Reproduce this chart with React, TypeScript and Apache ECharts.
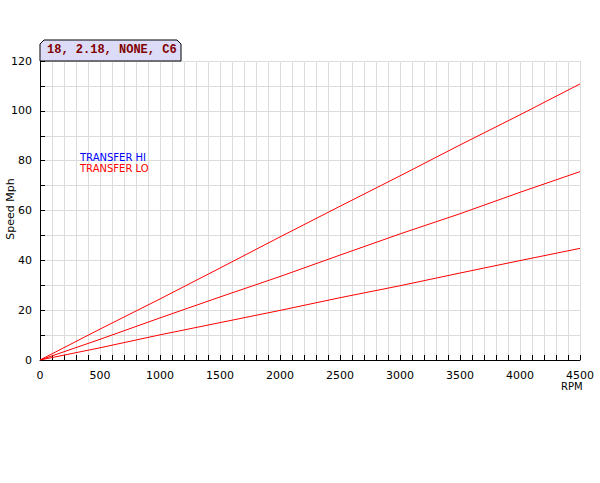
import { useEffect, useRef } from 'react'
import * as echarts from 'echarts'

// rpm sample points along the x axis
const rpm = [0, 500, 1000, 1500, 2000, 2500, 3000, 3500, 4000, 4500]

// speed (mph)
const speedTop = [0, 12.4, 24.5, 36.9, 49.4, 61.7, 73.9, 86.3, 98.4, 110.8]
const speedMid = [0, 8.3, 16.9, 25.3, 33.5, 42.1, 50.6, 58.7, 67.3, 75.6]
const speedLow = [0, 4.9, 10.1, 15.0, 19.9, 25.0, 29.8, 34.9, 39.9, 44.8]

const legendLabels = ['TRANSFER HI', 'TRANSFER LO']
const legendColors = ['#0000ff', '#ff0000']
const title = '18, 2.18, NONE, C6'

const pairs = (ys: number[]) => ys.map((y, i) => [rpm[i], y])

export default function App() {
  const containerRef = useRef<HTMLDivElement>(null)

  useEffect(() => {
    if (!containerRef.current) return
    const chart = echarts.init(containerRef.current, null, { renderer: 'svg' })

    const font = 'DejaVu Sans, Verdana, sans-serif'

    chart.setOption({
      animation: false,
      backgroundColor: '#ffffff',
      grid: {
        left: 40,
        right: 20,
        top: 61,
        bottom: 123,
        containLabel: false,
        outerBoundsMode: 'none',
      },
      xAxis: {
        type: 'value',
        min: 0,
        max: 4500,
        interval: 100,
        axisLine: { lineStyle: { color: '#000', width: 1 } },
        axisTick: { inside: true, length: 5, lineStyle: { color: '#000' } },
        axisLabel: {
          color: '#000',
          fontFamily: font,
          fontSize: 11,
          margin: 10,
          formatter: (v: number) => (v % 500 === 0 ? String(v) : ''),
        },
        splitLine: { lineStyle: { color: '#dcdcdc', width: 1 } },
      },
      yAxis: {
        type: 'value',
        min: 0,
        max: 120,
        interval: 10,
        axisLine: { show: true, lineStyle: { color: '#000', width: 1 } },
        axisTick: { show: true, inside: true, length: 5, lineStyle: { color: '#000' } },
        axisLabel: {
          color: '#000',
          fontFamily: font,
          fontSize: 11,
          margin: 8,
          formatter: (v: number) => (v % 20 === 0 ? String(v) : ''),
        },
        splitLine: { lineStyle: { color: '#dcdcdc', width: 1 } },
      },
      series: [speedTop, speedMid, speedLow].map((ys) => ({
        type: 'line',
        data: pairs(ys),
        symbol: 'none',
        lineStyle: { color: '#ff0000', width: 1 },
      })),
      graphic: [
        {
          type: 'polygon',
          shape: {
            points: [
              [40, 61],
              [40, 44],
              [44, 40],
              [177, 40],
              [181, 44],
              [181, 61],
            ],
          },
          style: { fill: '#dcdcf8', stroke: '#000', lineWidth: 1 },
          z: 10,
        },
        {
          type: 'text',
          left: 47,
          top: 44,
          style: {
            text: title,
            fill: '#800000',
            font: 'bold 12px "Liberation Mono", "Courier New", monospace',
          },
          z: 11,
        },
        ...legendLabels.map((label, i) => ({
          type: 'text',
          left: 80,
          top: 152 + i * 11,
          style: {
            text: label,
            fill: legendColors[i],
            font: `10px ${font}`,
          },
          z: 11,
        })),
        {
          type: 'text',
          x: 10,
          y: 209,
          rotation: Math.PI / 2,
          style: {
            text: 'Speed Mph',
            fill: '#000',
            font: `11px ${font}`,
            align: 'center',
            verticalAlign: 'middle',
          },
        },
        {
          type: 'text',
          left: 561,
          top: 381,
          style: { text: 'RPM', fill: '#000', font: `10px ${font}` },
        },
      ],
    })

    return () => {
      chart.dispose()
    }
  }, [])

  return (
    <div
      ref={containerRef}
      style={{ position: 'absolute', left: 0, top: 0, width: 600, height: 483 }}
    />
  )
}
